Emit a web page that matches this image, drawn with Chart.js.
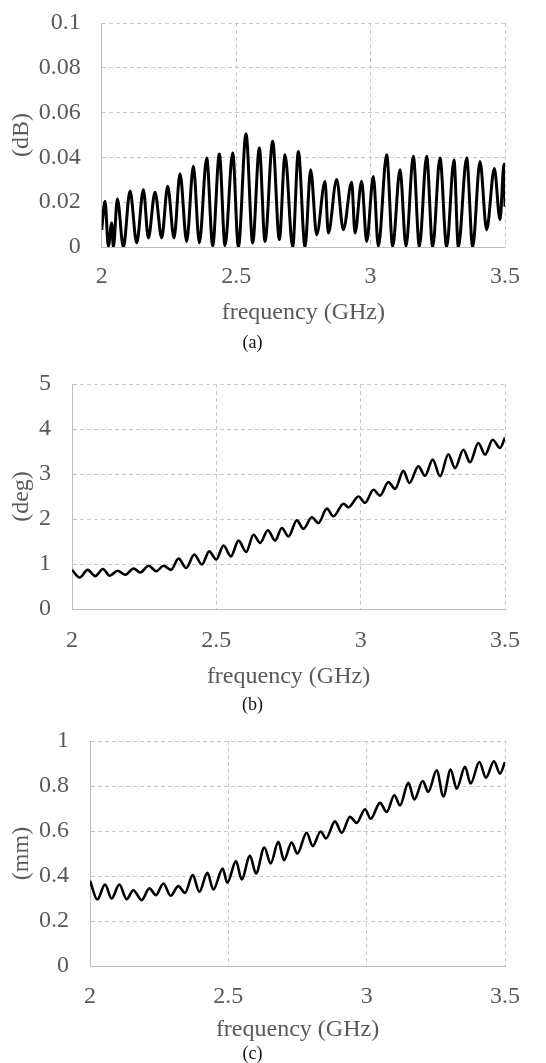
<!DOCTYPE html>
<html>
<head>
<meta charset="utf-8">
<script src="https://cdn.jsdelivr.net/npm/chart.js@4.4.1/dist/chart.umd.min.js"></script>
<style>
  html, body { margin: 0; padding: 0; background: #ffffff; }
  body { width: 546px; height: 1063px; position: relative; overflow: hidden; }
  canvas { position: absolute; left: 0; }
</style>
</head>
<body>
<canvas id="ca" width="546" height="358" style="top:0px"></canvas>
<canvas id="cb" width="546" height="360" style="top:358px"></canvas>
<canvas id="cc" width="546" height="347" style="top:716px"></canvas>
<script>
// ---------- data ----------
const freqTicks = [2, 2.5, 3, 3.5];
const freqTickLabels = ['2', '2.5', '3', '3.5'];

const ticksA = [0, 0.02, 0.04, 0.06, 0.08, 0.1];
const tickLabelsA = ['0', '0.02', '0.04', '0.06', '0.08', '0.1'];
const ticksB = [0, 1, 2, 3, 4, 5];
const tickLabelsB = ['0', '1', '2', '3', '4', '5'];
const ticksC = [0, 0.2, 0.4, 0.6, 0.8, 1];
const tickLabelsC = ['0', '0.2', '0.4', '0.6', '0.8', '1'];

// (a) magnitude error (dB)
const freqA = [2.000, 2.0124, 2.0248, 2.0372, 2.0434, 2.0583, 2.0806, 2.1054, 2.1302, 2.1550,
  2.1735, 2.1983, 2.2231, 2.2454, 2.2690, 2.2913, 2.3161, 2.3409, 2.3632, 2.3905,
  2.4128, 2.4376, 2.4587, 2.4872, 2.5083, 2.5368, 2.5616, 2.5863, 2.6074, 2.6359,
  2.6607, 2.6818, 2.7103, 2.7314, 2.7562, 2.7772, 2.7996, 2.8305, 2.8429, 2.8739,
  2.8987, 2.9297, 2.9421, 2.9669, 2.9855, 3.0103, 3.0289, 3.0599, 3.0822, 3.1095,
  3.1318, 3.1590, 3.1814, 3.2086, 3.2309, 3.2582, 3.2830, 3.3103, 3.3264, 3.3574,
  3.3797, 3.4070, 3.4318, 3.4603, 3.4814, 3.4963, 3.5000];
const lossA = [0.0077, 0.0204, 0.0003, 0.0107, 0.0000, 0.0214, 0.0000, 0.0250, 0.0018, 0.0256,
  0.0040, 0.0244, 0.0040, 0.0271, 0.0040, 0.0327, 0.0025, 0.0360, 0.0018, 0.0397,
  0.0006, 0.0415, 0.0006, 0.0420, 0.0000, 0.0506, 0.0018, 0.0442, 0.0025, 0.0472,
  0.0033, 0.0412, 0.0000, 0.0426, 0.0000, 0.0345, 0.0055, 0.0292, 0.0062, 0.0301,
  0.0077, 0.0289, 0.0062, 0.0293, 0.0025, 0.0315, 0.0003, 0.0412, 0.0003, 0.0345,
  0.0003, 0.0405, 0.0003, 0.0405, 0.0000, 0.0397, 0.0000, 0.0388, 0.0000, 0.0397,
  0.0000, 0.0382, 0.0077, 0.0350, 0.0122, 0.0370, 0.0180];

// (b) phase error (deg)
const freqB = [2.0000, 2.0265, 2.0542, 2.0808, 2.1073, 2.1304, 2.1581, 2.1846, 2.2135, 2.2365,
  2.2654, 2.2919, 2.3173, 2.3427, 2.3692, 2.3958, 2.4234, 2.4500, 2.4754, 2.4996,
  2.5250, 2.5504, 2.5769, 2.6034, 2.6288, 2.6519, 2.6784, 2.7038, 2.7269, 2.7500,
  2.7788, 2.8019, 2.8308, 2.8538, 2.8827, 2.9057, 2.9403, 2.9577, 2.9923, 3.0154,
  3.0442, 3.0673, 3.0961, 3.1192, 3.1480, 3.1688, 3.1999, 3.2230, 3.2496, 3.2750,
  3.3038, 3.3269, 3.3557, 3.3788, 3.4077, 3.4308, 3.4573, 3.4827, 3.5000];
const phaseB = [0.87, 0.70, 0.87, 0.73, 0.89, 0.74, 0.85, 0.76, 0.90, 0.81,
  0.96, 0.84, 0.96, 0.87, 1.12, 0.91, 1.21, 0.99, 1.28, 1.10,
  1.41, 1.17, 1.52, 1.27, 1.65, 1.47, 1.75, 1.52, 1.80, 1.61,
  1.97, 1.78, 2.04, 1.91, 2.23, 2.06, 2.34, 2.26, 2.50, 2.36,
  2.65, 2.52, 2.82, 2.67, 3.07, 2.80, 3.17, 2.96, 3.32, 2.95,
  3.44, 3.13, 3.54, 3.26, 3.69, 3.43, 3.76, 3.58, 3.81];

// (c) position error (mm)
const freqC = [2.0000, 2.0265, 2.0542, 2.0783, 2.1060, 2.1325, 2.1566, 2.1867, 2.2145, 2.2386,
  2.2651, 2.2916, 2.3193, 2.3434, 2.3711, 2.3952, 2.4241, 2.4458, 2.4795, 2.4964,
  2.5277, 2.5482, 2.5783, 2.6000, 2.6301, 2.6530, 2.6807, 2.7012, 2.7289, 2.7494,
  2.7831, 2.8048, 2.8337, 2.8530, 2.8855, 2.9096, 2.9398, 2.9639, 2.9940, 3.0145,
  3.0482, 3.0723, 3.1000, 3.1205, 3.1506, 3.1723, 3.2024, 3.2229, 3.2530, 3.2771,
  3.3036, 3.3253, 3.3554, 3.3759, 3.4072, 3.4313, 3.4602, 3.4819, 3.5000];
const dispC = [0.379, 0.296, 0.362, 0.300, 0.362, 0.297, 0.337, 0.293, 0.345, 0.315,
  0.367, 0.312, 0.355, 0.325, 0.404, 0.330, 0.414, 0.340, 0.433, 0.370,
  0.466, 0.385, 0.490, 0.411, 0.527, 0.456, 0.552, 0.470, 0.549, 0.500,
  0.592, 0.533, 0.598, 0.567, 0.643, 0.592, 0.663, 0.636, 0.697, 0.655,
  0.725, 0.685, 0.759, 0.714, 0.814, 0.740, 0.822, 0.774, 0.870, 0.754,
  0.873, 0.788, 0.885, 0.811, 0.907, 0.837, 0.910, 0.855, 0.907];

// ---------- drawing ----------
const FONT = '"Liberation Serif", "Times New Roman", serif';
const TXT = '#595959';
const GRID = '#c8c8c8';

function makeChart(id, o) {
  const hx = o.titleDiff + 14.4;
  const capPad = o.captionDiff - hx - 9;
  const plotBottomRel = o.plotBottom - o.top;
  const padBottom = o.height - plotBottomRel - o.captionDiff - 9;
  const pts = o.xs.map((x, i) => ({ x: x, y: o.ys[i] }));
  return new Chart(document.getElementById(id), {
    type: 'line',
    data: { datasets: [{
      data: pts,
      borderColor: '#000000',
      borderWidth: o.lw,
      pointRadius: 0,
      fill: false,
      cubicInterpolationMode: 'monotone'
    }]},
    options: {
      responsive: false,
      animation: false,
      devicePixelRatio: 1,
      layout: { padding: { left: 0, right: 41, top: o.plotTop - o.top, bottom: padBottom } },
      plugins: {
        legend: { display: false },
        tooltip: { enabled: false },
        title: {
          display: true, position: 'bottom', text: o.caption, color: '#111111',
          font: { family: FONT, size: 18, lineHeight: 1.0, weight: 'normal' },
          padding: { top: capPad, bottom: 0 }
        }
      },
      scales: {
        x: {
          type: 'linear', min: 2, max: 3.5,
          afterBuildTicks: s => { s.ticks = freqTicks.map(v => ({ value: v })); },
          afterFit: s => { s.height = hx; s.paddingLeft = 0; s.paddingRight = 0; },
          ticks: { callback: (v, i) => freqTickLabels[i], color: TXT, padding: o.labelDiff - 14.4,
                   font: { family: FONT, size: 24, lineHeight: 1.2 }, maxRotation: 0 },
          grid: { color: GRID, lineWidth: 1, drawTicks: false },
          border: { display: true, color: '#bdbdbd', width: 1, dash: [4, 3] },
          title: { display: true, text: 'frequency (GHz)', color: TXT,
                   font: { family: FONT, size: 24, lineHeight: 1.2 }, padding: { top: 0, bottom: 0 } }
        },
        y: {
          type: 'linear', min: o.yTicks[0], max: o.yTicks[o.yTicks.length - 1],
          afterBuildTicks: s => { s.ticks = o.yTicks.map(v => ({ value: v })); },
          afterFit: s => { s.width = o.plotLeft; s.paddingTop = 0; s.paddingBottom = 0; },
          ticks: { callback: (v, i) => o.yLabels[i], color: TXT, padding: 21,
                   font: { family: FONT, size: 24, lineHeight: 1.2 } },
          grid: { color: GRID, lineWidth: 1, drawTicks: false },
          border: { display: true, color: '#bdbdbd', width: 1, dash: [4, 3] },
          title: { display: true, text: o.yTitle, color: TXT,
                   font: { family: FONT, size: 24, lineHeight: 1.2 }, padding: { top: 7.6, bottom: 0 } }
        }
      }
    }
  });
}

Chart.defaults.font.family = FONT;

makeChart('ca', {
  top: 0, height: 358, plotTop: 23, plotBottom: 247, plotLeft: 101.7, lw: 3,
  labelDiff: 30, titleDiff: 66, captionDiff: 96,
  xs: freqA, ys: lossA, yTicks: ticksA, yLabels: tickLabelsA, yTitle: '(dB)', caption: '(a)'
});
makeChart('cb', {
  top: 358, height: 360, plotTop: 384, plotBottom: 609, plotLeft: 72, lw: 2.6,
  labelDiff: 31.5, titleDiff: 68, captionDiff: 96.7,
  xs: freqB, ys: phaseB, yTicks: ticksB, yLabels: tickLabelsB, yTitle: '(deg)', caption: '(b)'
});
makeChart('cc', {
  top: 716, height: 347, plotTop: 741, plotBottom: 966, plotLeft: 90, lw: 2.6,
  labelDiff: 31, titleDiff: 64, captionDiff: 88,
  xs: freqC, ys: dispC, yTicks: ticksC, yLabels: tickLabelsC, yTitle: '(mm)', caption: '(c)'
});
</script>
</body>
</html>
